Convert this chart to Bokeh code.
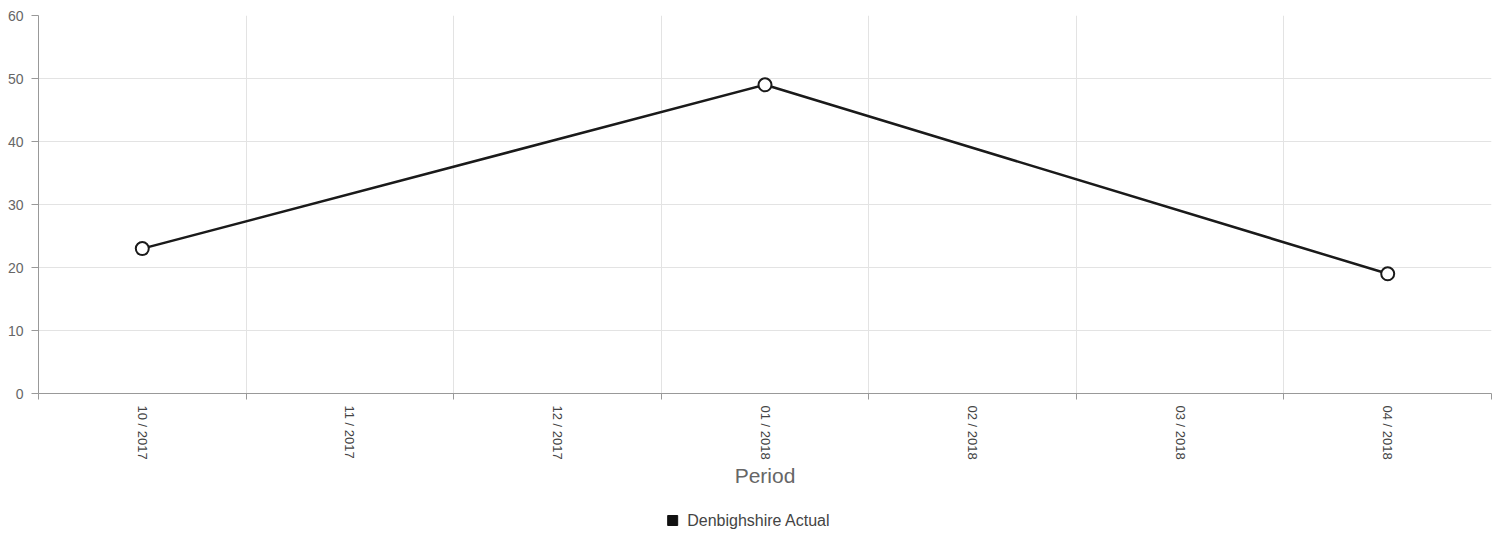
import math
from bokeh.plotting import figure
from bokeh.layouts import column
from bokeh.models import FixedTicker, Range1d, ColumnDataSource
from bokeh.core.properties import value
from bokeh.embed import file_html
from bokeh.resources import INLINE

periods = ["10 / 2017", "11 / 2017", "12 / 2017", "01 / 2018", "02 / 2018", "03 / 2018", "04 / 2018"]
actual = [23, None, None, 49, None, None, 19]
y_ticks = [0, 10, 20, 30, 40, 50, 60]
series_name = "Denbighshire Actual"

centers = [i + 0.5 for i in range(len(periods))]
bounds = [i for i in range(len(periods) + 1)]
xs = [centers[i] for i, v in enumerate(actual) if v is not None]
ys = [v for v in actual if v is not None]

FONT = "Liberation Sans"
TXT = "#666666"
W = 1503

p = figure(width=W, height=505, output_backend="svg", toolbar_location=None,
           x_range=Range1d(0, len(periods)), y_range=Range1d(0, 60),
           min_border_left=38, min_border_right=12, min_border_top=15, min_border_bottom=112)
p.outline_line_color = None
p.background_fill_color = "white"

src = ColumnDataSource(dict(x=xs, y=ys))
p.line("x", "y", source=src, line_color="#1a1a1a", line_width=2.5)
p.scatter("x", "y", source=src, size=13, fill_color="white", line_color="#1a1a1a", line_width=2)

# x axis
p.xaxis.ticker = FixedTicker(ticks=centers, minor_ticks=bounds)
p.xaxis.major_label_overrides = {c: lab for c, lab in zip(centers, periods)}
p.xaxis.major_label_orientation = -math.pi / 2
p.xaxis.major_tick_out = 0
p.xaxis.major_tick_in = 0
p.xaxis.minor_tick_out = 6
p.xaxis.minor_tick_in = 0
p.xaxis.minor_tick_line_color = "#999999"
p.xaxis.axis_line_color = "#999999"
p.xaxis.major_label_text_font = FONT
p.xaxis.major_label_text_font_size = "13px"
p.xaxis.major_label_text_color = "#444444"
p.xaxis.major_label_standoff = 6
p.xaxis.axis_label = "Period"
p.xaxis.axis_label_text_font = FONT
p.xaxis.axis_label_text_font_size = "21px"
p.xaxis.axis_label_text_font_style = "normal"
p.xaxis.axis_label_text_color = TXT
p.xaxis.axis_label_standoff = 1

# y axis
p.yaxis.ticker = FixedTicker(ticks=y_ticks)
p.yaxis.major_tick_out = 7
p.yaxis.major_tick_in = 0
p.yaxis.minor_tick_out = 0
p.yaxis.minor_tick_in = 0
p.yaxis.major_tick_line_color = "#999999"
p.yaxis.axis_line_color = "#999999"
p.yaxis.major_label_text_font = FONT
p.yaxis.major_label_text_font_size = "14px"
p.yaxis.major_label_text_color = TXT
p.yaxis.major_label_standoff = 8

# grids
p.xgrid.ticker = FixedTicker(ticks=bounds)
p.xgrid.grid_line_color = "#e3e3e3"
p.ygrid.grid_line_color = "#e3e3e3"

# legend strip (drawn in its own pixel-scaled figure below the chart)
lf = figure(width=W, height=28, output_backend="svg", toolbar_location=None,
            x_range=Range1d(0, W), y_range=Range1d(0, 28),
            x_axis_location=None, y_axis_location=None,
            min_border_left=0, min_border_right=0, min_border_top=0, min_border_bottom=0)
lf.outline_line_color = None
lf.xgrid.visible = False
lf.ygrid.visible = False
lf.scatter([656], [13], marker="square", size=10, fill_color="#111111", line_color="#111111")
lf.text([671], [13], text=[series_name], text_font=value(FONT), text_font_size="16px",
        text_color="#444444", text_baseline="middle", text_align="left")

layout = column(p, lf, spacing=0)
open("out.html", "w").write(file_html(layout, INLINE))
